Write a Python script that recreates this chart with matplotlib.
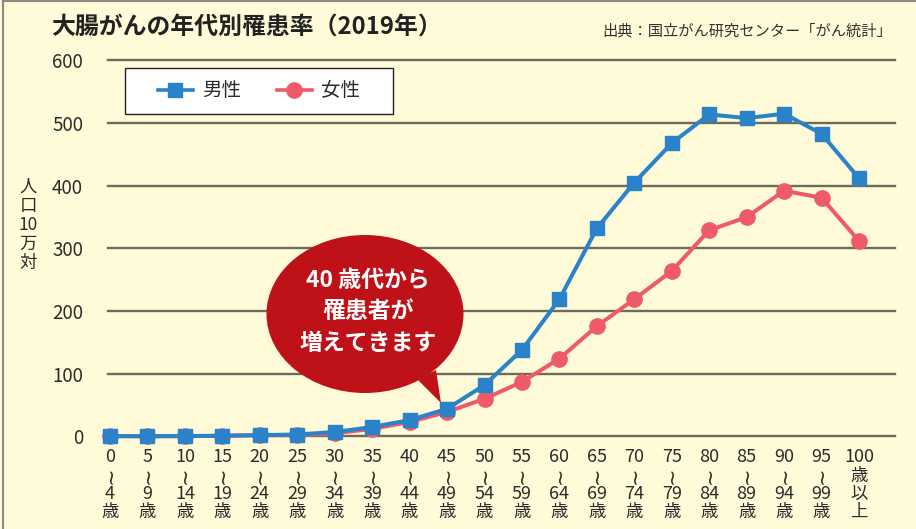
import matplotlib
matplotlib.use("Agg")
import matplotlib.pyplot as plt
from matplotlib.patches import Ellipse, Polygon, Rectangle
from matplotlib.lines import Line2D
from matplotlib.transforms import blended_transform_factory

plt.rcParams['font.family'] = ['Noto Sans CJK JP', 'DejaVu Sans']

# age groups (start / end of each 5-year band)
age_from = ['0', '5', '10', '15', '20', '25', '30', '35', '40', '45', '50',
            '55', '60', '65', '70', '75', '80', '85', '90', '95', '100']
age_to = ['4', '9', '14', '19', '24', '29', '34', '39', '44', '49', '54',
          '59', '64', '69', '74', '79', '84', '89', '94', '99', None]

# incidence per 100,000
male = [0.4, 0.3, 0.5, 1, 2, 3, 7, 15, 26, 44, 82,
        138, 219, 332, 405, 468, 514, 508, 515, 483, 412]
female = [0.4, 0.3, 0.5, 1, 2, 2, 5, 12, 23, 39, 60,
          87, 124, 176, 219, 264, 329, 350, 392, 381, 312]

yticks = [0, 100, 200, 300, 400, 500, 600]

BG = '#FFFAD8'
BLUE = '#2A83C8'
PINK = '#EE5A6A'
GRID = '#6E6A5E'
TXT = '#2B2B2B'

W, H = 916, 529
fig = plt.figure(figsize=(W / 100, H / 100), dpi=100, facecolor=BG)

def fx(px):
    return px / W

def fy(py):
    return 1 - py / H

ax = fig.add_axes([fx(108), fy(436.4), fx(895 - 108), (436.4 - 60.5) / H])
ax.set_facecolor(BG)
x = list(range(len(male)))
ax.set_xlim(-2 / 37.45, -2 / 37.45 + 787 / 37.45)
ax.set_ylim(0, 600)

for v in yticks:
    ax.axhline(v, color=GRID, lw=1.7, zorder=1, clip_on=False)

ax.plot(x, female, color=PINK, lw=2.9, marker='o', ms=11, clip_on=False, zorder=3)
ax.plot(x, male, color=BLUE, lw=2.9, marker='s', ms=10.5, clip_on=False, zorder=4)

for s in ax.spines.values():
    s.set_visible(False)
ax.set_yticks(yticks)
ax.set_yticklabels([str(v) for v in yticks], fontsize=13.5, color=TXT)
ax.tick_params(axis='y', length=0, pad=18)
ax.set_xticks([])

# multi-line age labels under the axis, one text per line
tr = blended_transform_factory(ax.transData, fig.transFigure)
rows = [457, 475.5, 494, 512]
for i in x:
    if age_to[i] is not None:
        lines = [age_from[i], '~', age_to[i], '歳']
    else:
        lines = [age_from[i], '歳', '以', '上']
    for k, t in enumerate(lines):
        yy = fy(rows[k])
        if t == '~':
            ax.text(i, yy, t, transform=tr, ha='center', va='center',
                    rotation=90, fontsize=15, color=TXT, family='DejaVu Sans')
        elif t.isdigit():
            ax.text(i, yy, t, transform=tr, ha='center', va='center',
                    fontsize=13, color=TXT)
        else:
            ax.text(i, yy, t, transform=tr, ha='center', va='center',
                    fontsize=12.5, color=TXT)

# y-axis label, stacked vertically
for k, t in enumerate(['人', '口', '10', '万', '対']):
    fig.text(fx(28), fy(187 + k * 19), t, ha='center', va='center',
             fontsize=12.5, color=TXT)

# title and source
fig.text(fx(51), fy(27), '大腸がんの年代別罹患率（2019年）', ha='left', va='center',
         fontsize=17.2, fontweight='bold', color='#222222')
fig.text(fx(892), fy(31), '出典：国立がん研究センター「がん統計」', ha='right', va='center',
         fontsize=11, color='#333333')

# legend box
fig.add_artist(Rectangle((fx(125), fy(114)), fx(268), 46 / H, transform=fig.transFigure,
                         facecolor='white', edgecolor='#222222', lw=1, zorder=5))
handles = [Line2D([], [], color=BLUE, lw=2.6, marker='s', ms=10.5),
           Line2D([], [], color=PINK, lw=2.6, marker='o', ms=11)]
leg = fig.legend(handles, ['男性', '女性'], loc='center',
                 bbox_to_anchor=(fx(259), fy(91)), ncol=2, frameon=False,
                 fontsize=14, handlelength=1.8, handletextpad=0.5,
                 columnspacing=1.8)
leg.set_zorder(6)
for t in leg.get_texts():
    t.set_color(TXT)

# speech bubble
RED = '#BE1118'
fig.add_artist(Ellipse((fx(365), fy(314)), fx(197), 158 / H, transform=fig.transFigure,
                       facecolor=RED, edgecolor='none', zorder=7))
fig.add_artist(Polygon([(fx(418), fy(380)), (fx(441), fy(403)), (fx(436), fy(370))],
                       closed=True, transform=fig.transFigure,
                       facecolor=RED, edgecolor='none', zorder=7))
for k, t in enumerate(['40 歳代から', '罹患者が', '増えてきます']):
    fig.text(fx(368), fy(280 + k * 32), t, ha='center', va='center',
             fontsize=16.5, fontweight='bold', color='white', zorder=8)

# outer frame (left and top edges)
fig.add_artist(Line2D([fx(3), fx(3)], [0, fy(1)], transform=fig.transFigure,
                      color='#8A8A8A', lw=1.5))
fig.add_artist(Line2D([fx(3), 1], [fy(1), fy(1)], transform=fig.transFigure,
                      color='#8A8A8A', lw=1.5))

fig.savefig('out.png', dpi=100, facecolor=BG)
